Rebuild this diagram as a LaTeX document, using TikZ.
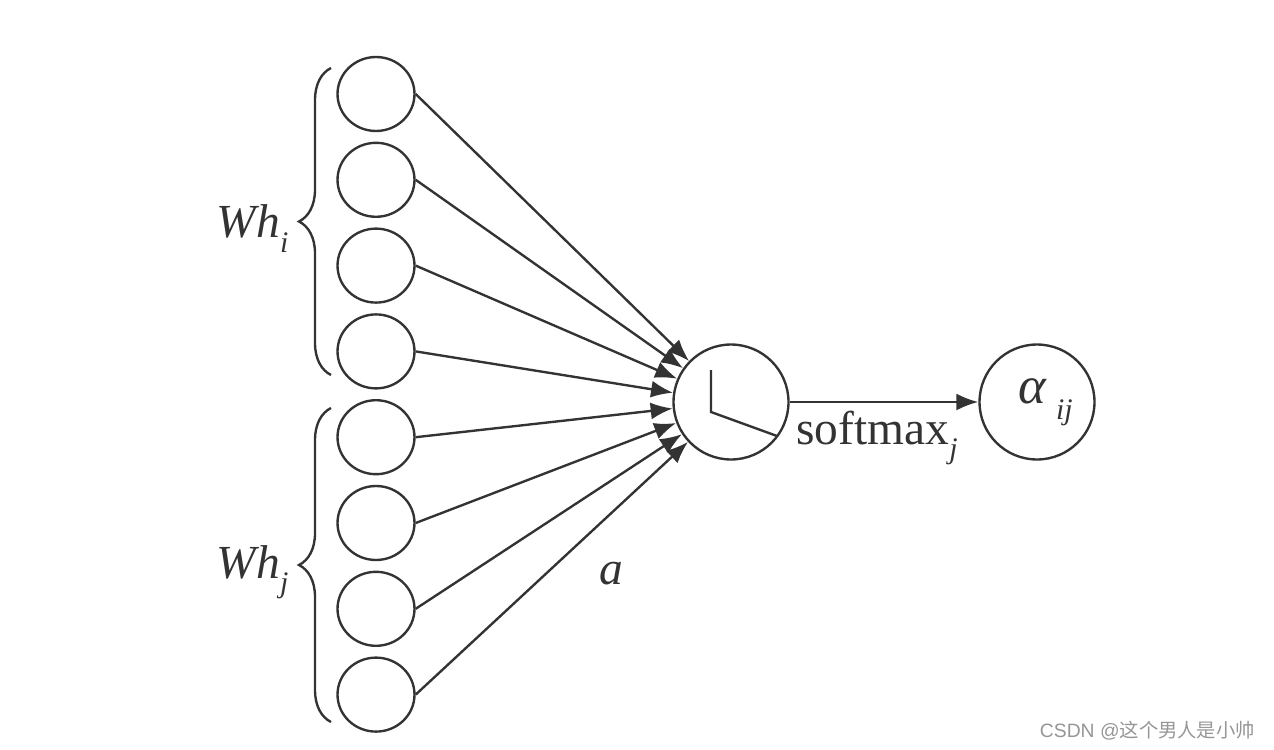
\documentclass[tikz,border=0pt]{standalone}
\usepackage{fontspec}
\setmainfont{Liberation Serif}
\newfontfamily\cjkfont{Noto Sans CJK SC}
\usepackage{tikz}
\usetikzlibrary{arrows.meta,positioning,shapes.geometric,decorations.pathreplacing}
\definecolor{mygray}{RGB}{51,51,51}
\definecolor{mymark}{RGB}{150,150,150}
\newcommand{\lowidx}[1]{\raisebox{-0.3em}{\fontsize{17}{17}\selectfont\itshape #1}}
\tikzstyle{unit}=[draw=mygray,ellipse,minimum width=1.54cm,minimum height=1.48cm,inner sep=0pt]
\tikzstyle{neuron}=[draw=mygray,circle,minimum size=2.3cm,inner sep=0pt]

\begin{document}
\begin{tikzpicture}[
  x=0.02cm, y=-0.02cm,
  line width=1.35pt,
  every node/.style={text=mygray,font=\fontsize{27}{32}\selectfont},
  link/.style={draw=mygray,-{Latex[length=0.44cm,width=0.34cm]}},
  mybrace/.style={draw=mygray,decorate,decoration={brace,amplitude=0.64cm}}
]
\useasboundingbox (0,0) rectangle (1274,750);

% input units
\foreach \k in {1,...,8}
  \node [unit] (u\k) at (376,{94+85.8*(\k-1)}) {};

\node [neuron] (att) at (731,402) {};
\node [neuron] (out) at (1037,402) {\hspace{10pt}\fontsize{30}{32}\selectfont\textit{α}\,\lowidx{ij}};

% score function inside the unit
\coordinate (p1) at (711,370);
\coordinate (p2) at (711,412);
\coordinate (p3) at (777,436);
\draw [mygray] (p1) -- (p2) -- (p3);

\foreach \k in {1,...,8}
  \draw [link] (u\k.east) -- (att);
\draw [link] (att) -- (out);

% braces
\draw [mybrace] (331,375) -- (331,68) coordinate[midway,xshift=-0.64cm] (ti);
\draw [mybrace] (331,722) -- (331,408) coordinate[midway,xshift=-0.64cm] (tj);
\node [anchor=east] (wi) at ([xshift=-2pt,yshift=-4pt]ti) {\textit{Wh}\lowidx{i}};
\node [anchor=east] (wj) at ([xshift=-2pt,yshift=-4pt]tj) {\textit{Wh}\lowidx{j}};

\node (lbla) at (611,574) {\textit{a}};
\node (lbls) at (877,438) {softmax\lowidx{j}};

\node [text=mymark,font=\fontsize{11}{13}\selectfont,anchor=east] (mark) at (1262,731)
  {\fontspec{Liberation Sans}CSDN @\cjkfont 这个男人是小帅};
\end{tikzpicture}
\end{document}
